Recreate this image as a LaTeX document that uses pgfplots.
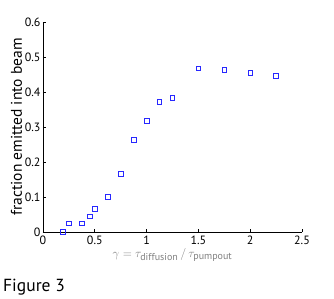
\documentclass[border=0pt]{standalone}
\usepackage{pgfplots}
\pgfplotsset{compat=1.18}
\usepackage{fontspec}
\setmainfont{PT Sans}
\definecolor{mblue}{RGB}{40,40,255}
\begin{document}
\begin{tikzpicture}
\useasboundingbox (-43pt,-67pt) rectangle (291pt,232pt);
\begin{axis}[
  scale only axis, width=259pt, height=210pt,
  at={(0,0)}, anchor=south west,
  xmin=0, xmax=2.5, ymin=0, ymax=0.6,
  axis x line*=bottom, axis y line*=left,
  axis line style={line width=0.8pt, -},
  tick style={line width=0.6pt, black},
  tick align=inside, major tick length=3pt,
  xtick={0,0.5,1,1.5,2,2.5},
  xticklabels={0,0.5,1,1.5,2,2.5},
  ytick={0,0.1,0.2,0.3,0.4,0.5,0.6},
  yticklabels={0,0.1,0.2,0.3,0.4,0.5,0.6},
  tick label style={font=\fontsize{12}{13}\selectfont},
  yticklabel style={xshift=1pt},
  ylabel={fraction emitted into beam},
  ylabel style={font=\fontsize{15.5}{17}\selectfont, yshift=-4pt},
  xlabel={\color{gray}$\gamma=\tau_{\mbox{\fontsize{10}{11}\selectfont diffusion}}\,/\,\tau_{\mbox{\fontsize{10}{11}\selectfont pumpout}}$},
  xlabel style={font=\fontsize{13}{14}\selectfont, yshift=3pt},
  clip=false,
]
\addplot[only marks, mark=square, mark size=2.3pt, mark options={mblue, line width=0.8pt}] coordinates {
(0.19,0) (0.25,0.024) (0.375,0.024) (0.45,0.044) (0.5,0.066) (0.625,0.1)
(0.75,0.166) (0.875,0.263) (1.0,0.318) (1.125,0.372) (1.25,0.383)
(1.5,0.467) (1.75,0.463) (2.0,0.455) (2.25,0.446)
};
\end{axis}
\node[anchor=base west, font=\fontsize{17.5}{19}\selectfont, inner sep=0pt] at (-40pt,-60pt) {Figure 3};
\end{tikzpicture}
\end{document}
